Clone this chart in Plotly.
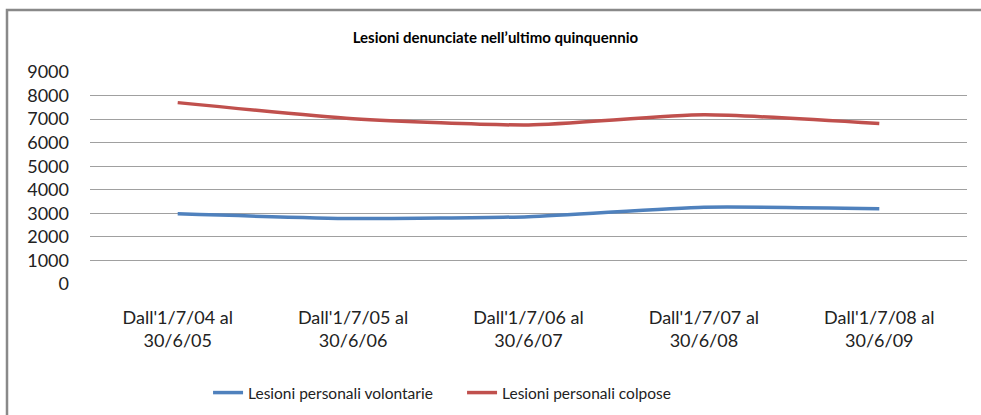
import plotly.graph_objects as go

categories = ["Dall'1/7/04 al<br>30/6/05", "Dall'1/7/05 al<br>30/6/06", "Dall'1/7/06 al<br>30/6/07",
              "Dall'1/7/07 al<br>30/6/08", "Dall'1/7/08 al<br>30/6/09"]
volontarie = [2980, 2780, 2860, 3260, 3190]
colpose = [7700, 7020, 6750, 7180, 6810]
y_ticks = [0, 1000, 2000, 3000, 4000, 5000, 6000, 7000, 8000, 9000]

FONT = "Lato"

fig = go.Figure()
fig.add_trace(go.Scatter(x=categories, y=volontarie, mode="lines", name="Lesioni personali volontarie",
                         line=dict(color="#4F81BD", width=3.5, shape="spline", smoothing=0.6)))
fig.add_trace(go.Scatter(x=categories, y=colpose, mode="lines", name="Lesioni personali colpose",
                         line=dict(color="#C0504D", width=3.5, shape="spline", smoothing=0.6)))

fig.update_layout(
    width=981, height=415,
    margin=dict(l=90, r=14, t=72, b=131, autoexpand=False),
    paper_bgcolor="white", plot_bgcolor="white",
    font=dict(family=FONT, size=18, color="#222"),
    title=dict(text="<b>Lesioni denunciate nell’ultimo quinquennio</b>", x=0.505, xanchor="center",
               y=1 - 38 / 415, yanchor="middle", yref="container",
               font=dict(family=FONT, size=15, color="#000")),
    xaxis=dict(range=[-0.5, 4.5], showgrid=False, showline=False, ticks="", automargin=False,
               tickfont=dict(size=18), ticklabelstandoff=21),
    yaxis=dict(range=[0, 9000], tickvals=y_ticks, showgrid=True, gridcolor="#a0a0a0", gridwidth=1,
               zeroline=False, showline=False, ticks="", automargin=False,
               tickfont=dict(size=18), ticklabelstandoff=20),
    legend=dict(orientation="h", x=0.471, xref="container", xanchor="center",
                y=1 - 393 / 415, yref="container", yanchor="middle",
                font=dict(size=15.5), itemwidth=30, entrywidth=209),
    showlegend=True,
)

# chart border (decoration)
fig.add_shape(type="rect", xref="paper", yref="paper",
              x0=(7 - 90) / 877, x1=(1000 - 90) / 877, y0=(284 - 440) / 212, y1=(284 - 10) / 212,
              line=dict(color="#898989", width=2.5), fillcolor="rgba(0,0,0,0)", layer="below")

fig.write_html("out.html", config={"displayModeBar": False},
               post_script="document.body.style.margin='0';document.body.style.padding='0';")
